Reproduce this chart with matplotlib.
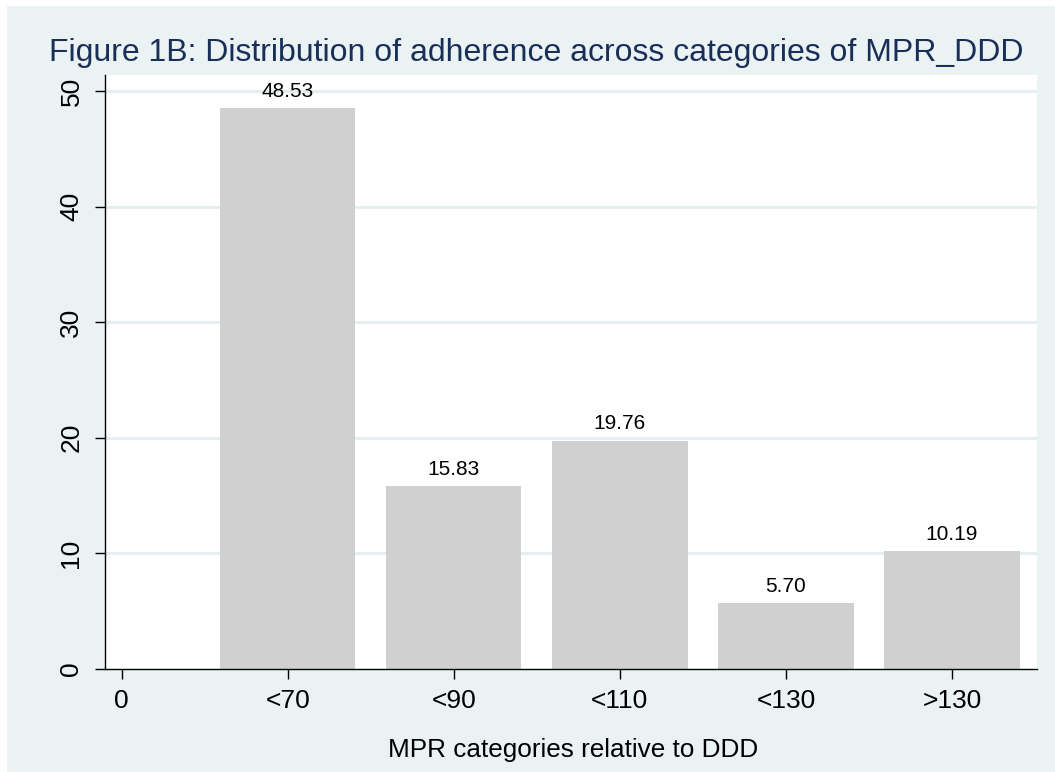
import matplotlib
matplotlib.use("Agg")
import matplotlib.pyplot as plt
from matplotlib.patches import Rectangle

categories = ["0", "<70", "<90", "<110", "<130", ">130"]
values = [0.0, 48.53, 15.83, 19.76, 5.70, 10.19]
show_label = [False, True, True, True, True, True]
yticks = [0, 10, 20, 30, 40, 50]

plt.rcParams['font.family'] = ['Liberation Sans', 'DejaVu Sans']

W, H = 1055, 772
fig = plt.figure(figsize=(W / 100, H / 100), dpi=100)
fig.patch.set_facecolor("white")
bg = "#EAF2F3"
fig.patches.append(Rectangle((7 / W, 0), (W - 7) / W, (H - 6) / H,
                             transform=fig.transFigure, facecolor=bg,
                             edgecolor="none", zorder=-10))

left, right, bottom, top = 105, 1037, 669, 75
ax = fig.add_axes([left / W, (H - bottom) / H, (right - left) / W, (bottom - top) / H])
ax.set_facecolor("white")

x = list(range(len(categories)))
bars = ax.bar(x, values, width=0.815, color="#D0D0D0", edgecolor="none", zorder=2)
for xi, v, s in zip(x, values, show_label):
    if s:
        ax.annotate(f"{v:.2f}", (xi, v), xytext=(0, 8.2), textcoords="offset points",
                    ha="center", va="baseline", fontsize=15, color="black", zorder=3)

ax.set_xlim(-0.1, 5.512)
ax.set_ylim(0, 51.38)
ax.set_xticks(x)
ax.set_xticklabels(categories, fontsize=19)
ax.set_yticks(yticks)
ax.set_yticklabels([str(t) for t in yticks], fontsize=19, rotation=90, va="center")
ax.tick_params(axis="both", direction="out", length=7.5, width=1, color="black")
ax.tick_params(axis="x", pad=7)
ax.tick_params(axis="y", pad=8)
for t in yticks[1:]:
    ax.axhline(t, color="#E4EDEF", lw=2.0, zorder=1)
for sp in ["top", "right"]:
    ax.spines[sp].set_visible(False)
for sp in ["left", "bottom"]:
    ax.spines[sp].set_color("black")
    ax.spines[sp].set_linewidth(1.0)

fig.text(573 / W, (H - 757) / H, "MPR categories relative to DDD", ha="center",
         va="baseline", fontsize=18.8, color="black")
fig.text(536.5 / W, (H - 61) / H,
         "Figure 1B: Distribution of adherence across categories of MPR_DDD",
         ha="center", va="baseline", fontsize=23, color="#1A2F57")

fig.savefig("out.png", dpi=100, facecolor=fig.get_facecolor())
